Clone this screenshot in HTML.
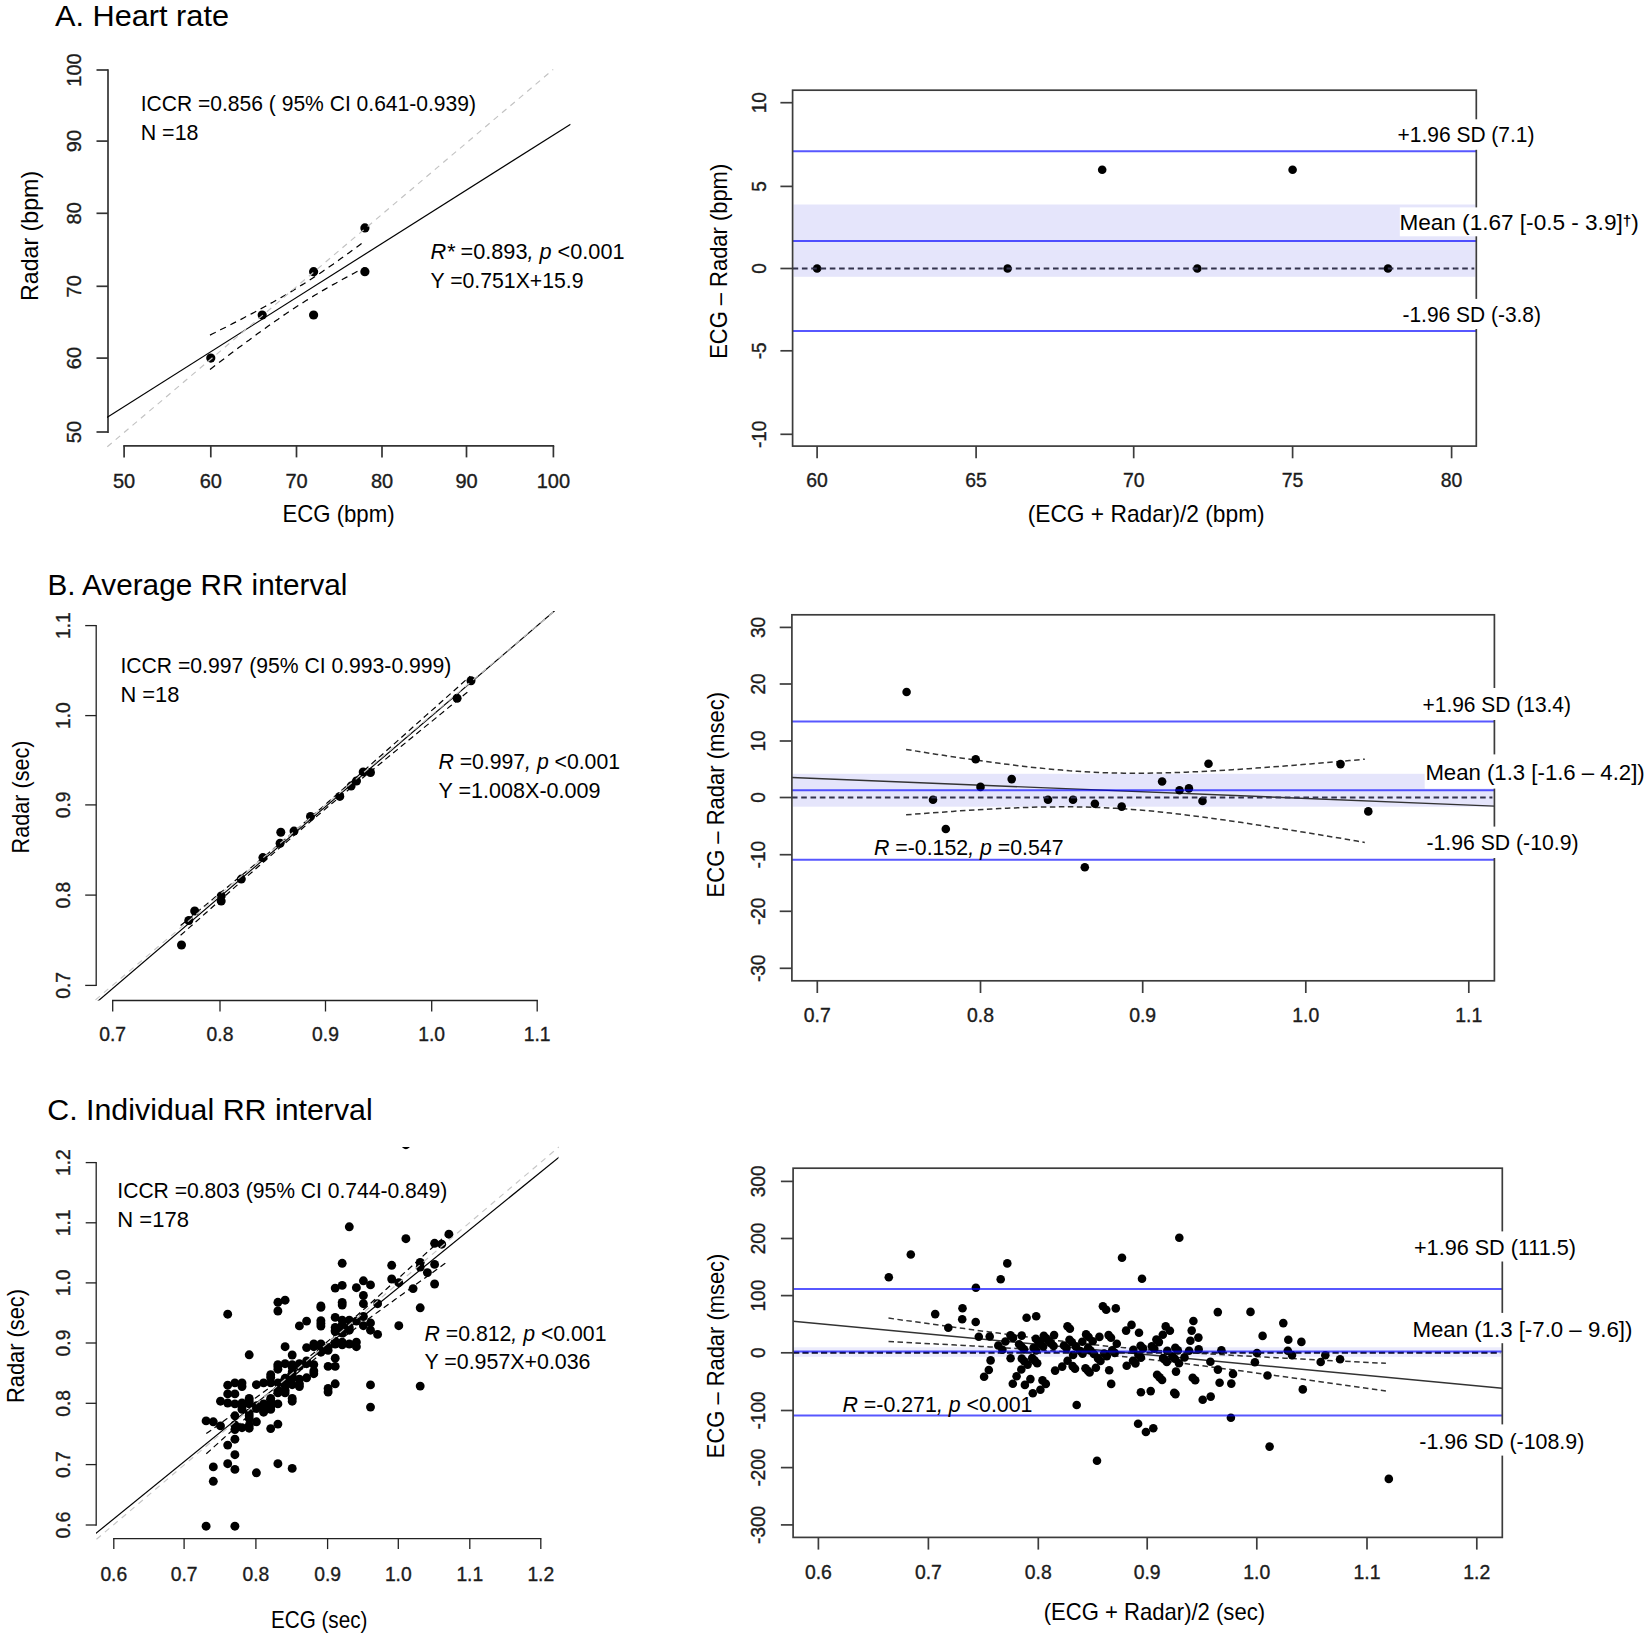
<!DOCTYPE html>
<html><head><meta charset="utf-8"><title>Figure</title>
<style>
html,body{margin:0;padding:0;background:#fff;}
svg{display:block;font-family:'Liberation Sans', sans-serif;}
</style></head><body>
<svg width="1650" height="1639" viewBox="0 0 1650 1639">
<rect width="1650" height="1639" fill="#fff"/>
<g id="pA">
<text x="55.0" y="26.4" font-size="29.30" text-anchor="start" fill="#000" textLength="174.0" lengthAdjust="spacingAndGlyphs" >A. Heart rate</text>
<line x1="108.0" y1="69.2" x2="108.0" y2="432.9" stroke="#333" stroke-width="1.70" />
<line x1="96.5" y1="70.0" x2="108.0" y2="70.0" stroke="#333" stroke-width="1.70" />
<text transform="translate(81.0 70.0) rotate(-90) scale(1 1.000)" font-size="20.00" text-anchor="middle" fill="#1c1c1c" stroke="#1c1c1c" stroke-width="0.35">100</text>
<line x1="96.5" y1="141.1" x2="108.0" y2="141.1" stroke="#333" stroke-width="1.70" />
<text transform="translate(81.0 141.1) rotate(-90) scale(1 1.000)" font-size="20.00" text-anchor="middle" fill="#1c1c1c" stroke="#1c1c1c" stroke-width="0.35">90</text>
<line x1="96.5" y1="213.3" x2="108.0" y2="213.3" stroke="#333" stroke-width="1.70" />
<text transform="translate(81.0 213.3) rotate(-90) scale(1 1.000)" font-size="20.00" text-anchor="middle" fill="#1c1c1c" stroke="#1c1c1c" stroke-width="0.35">80</text>
<line x1="96.5" y1="286.3" x2="108.0" y2="286.3" stroke="#333" stroke-width="1.70" />
<text transform="translate(81.0 286.3) rotate(-90) scale(1 1.000)" font-size="20.00" text-anchor="middle" fill="#1c1c1c" stroke="#1c1c1c" stroke-width="0.35">70</text>
<line x1="96.5" y1="358.1" x2="108.0" y2="358.1" stroke="#333" stroke-width="1.70" />
<text transform="translate(81.0 358.1) rotate(-90) scale(1 1.000)" font-size="20.00" text-anchor="middle" fill="#1c1c1c" stroke="#1c1c1c" stroke-width="0.35">60</text>
<line x1="96.5" y1="432.0" x2="108.0" y2="432.0" stroke="#333" stroke-width="1.70" />
<text transform="translate(81.0 432.0) rotate(-90) scale(1 1.000)" font-size="20.00" text-anchor="middle" fill="#1c1c1c" stroke="#1c1c1c" stroke-width="0.35">50</text>
<line x1="123.2" y1="445.9" x2="554.2" y2="445.9" stroke="#333" stroke-width="1.70" />
<line x1="124.1" y1="445.9" x2="124.1" y2="457.4" stroke="#333" stroke-width="1.70" />
<text x="124.1" y="488.3" font-size="20.00" text-anchor="middle" fill="#1c1c1c" stroke="#1c1c1c" stroke-width="0.35">50</text>
<line x1="210.8" y1="445.9" x2="210.8" y2="457.4" stroke="#333" stroke-width="1.70" />
<text x="210.8" y="488.3" font-size="20.00" text-anchor="middle" fill="#1c1c1c" stroke="#1c1c1c" stroke-width="0.35">60</text>
<line x1="296.5" y1="445.9" x2="296.5" y2="457.4" stroke="#333" stroke-width="1.70" />
<text x="296.5" y="488.3" font-size="20.00" text-anchor="middle" fill="#1c1c1c" stroke="#1c1c1c" stroke-width="0.35">70</text>
<line x1="382.0" y1="445.9" x2="382.0" y2="457.4" stroke="#333" stroke-width="1.70" />
<text x="382.0" y="488.3" font-size="20.00" text-anchor="middle" fill="#1c1c1c" stroke="#1c1c1c" stroke-width="0.35">80</text>
<line x1="466.5" y1="445.9" x2="466.5" y2="457.4" stroke="#333" stroke-width="1.70" />
<text x="466.5" y="488.3" font-size="20.00" text-anchor="middle" fill="#1c1c1c" stroke="#1c1c1c" stroke-width="0.35">90</text>
<line x1="553.4" y1="445.9" x2="553.4" y2="457.4" stroke="#333" stroke-width="1.70" />
<text x="553.4" y="488.3" font-size="20.00" text-anchor="middle" fill="#1c1c1c" stroke="#1c1c1c" stroke-width="0.35">100</text>
<clipPath id="cA"><rect x="107" y="55" width="463.6" height="391.5"/></clipPath>
<line x1="106.9" y1="417.4" x2="570.6" y2="124.2" stroke="#000" stroke-width="1.20" clip-path="url(#cA)"/>
<circle cx="210.8" cy="358.1" r="4.60" fill="#000"/>
<circle cx="262.2" cy="315.0" r="4.60" fill="#000"/>
<circle cx="313.6" cy="271.7" r="4.60" fill="#000"/>
<circle cx="313.6" cy="315.0" r="4.60" fill="#000"/>
<circle cx="364.9" cy="227.9" r="4.60" fill="#000"/>
<circle cx="364.9" cy="271.7" r="4.60" fill="#000"/>
<polyline fill="none" points="210.0,335.1 212.6,333.8 215.2,332.5 217.8,331.1 220.4,329.8 223.1,328.5 225.7,327.2 228.3,325.8 230.9,324.5 233.5,323.1 236.2,321.8 238.8,320.4 241.4,319.1 244.0,317.7 246.6,316.3 249.3,315.0 251.9,313.6 254.5,312.2 257.1,310.8 259.7,309.4 262.3,308.0 265.0,306.5 267.6,305.1 270.2,303.6 272.8,302.2 275.4,300.7 278.1,299.2 280.7,297.7 283.3,296.2 285.9,294.7 288.5,293.1 291.2,291.6 293.8,290.0 296.4,288.4 299.0,286.8 301.6,285.1 304.3,283.5 306.9,281.8 309.5,280.1 312.1,278.4 314.7,276.7 317.4,274.9 320.0,273.2 322.6,271.4 325.2,269.6 327.8,267.8 330.5,266.0 333.1,264.2 335.7,262.3 338.3,260.5 340.9,258.6 343.6,256.7 346.2,254.8 348.8,252.9 351.4,251.0 354.0,249.1 356.6,247.2 359.3,245.2 361.9,243.3 364.5,241.4" stroke="#000" stroke-width="1.25" stroke-dasharray="6.4 5" />
<polyline fill="none" points="210.0,369.4 212.6,367.4 215.2,365.4 217.8,363.4 220.4,361.5 223.1,359.5 225.7,357.5 228.3,355.5 230.9,353.5 233.5,351.6 236.2,349.6 238.8,347.6 241.4,345.7 244.0,343.7 246.6,341.8 249.3,339.9 251.9,337.9 254.5,336.0 257.1,334.1 259.7,332.2 262.3,330.3 265.0,328.4 267.6,326.5 270.2,324.7 272.8,322.8 275.4,321.0 278.1,319.2 280.7,317.3 283.3,315.5 285.9,313.8 288.5,312.0 291.2,310.3 293.8,308.5 296.4,306.8 299.0,305.1 301.6,303.4 304.3,301.8 306.9,300.1 309.5,298.5 312.1,296.9 314.7,295.3 317.4,293.7 320.0,292.2 322.6,290.6 325.2,289.1 327.8,287.6 330.5,286.1 333.1,284.6 335.7,283.2 338.3,281.7 340.9,280.3 343.6,278.8 346.2,277.4 348.8,276.0 351.4,274.6 354.0,273.2 356.6,271.8 359.3,270.4 361.9,269.1 364.5,267.7" stroke="#000" stroke-width="1.25" stroke-dasharray="6.4 5" />
<line x1="107.3" y1="446.7" x2="553.2" y2="69.5" stroke="#c2c2c2" stroke-width="1.15" stroke-dasharray="5.8 5.2" />
<text x="140.7" y="110.9" font-size="22.00" text-anchor="start" fill="#000" textLength="335.3" lengthAdjust="spacingAndGlyphs" >ICCR =0.856 ( 95% CI 0.641-0.939)</text>
<text x="140.7" y="140.0" font-size="22.00" text-anchor="start" fill="#000" textLength="57.8" lengthAdjust="spacingAndGlyphs" >N =18</text>
<text x="430.5" y="258.7" font-size="22.00" text-anchor="start" fill="#000" textLength="194.0" lengthAdjust="spacingAndGlyphs" ><tspan font-style="italic">R* </tspan>=0.893<tspan font-style="italic">, p </tspan>&lt;0.001</text>
<text x="430.5" y="287.7" font-size="22.00" text-anchor="start" fill="#000" textLength="153.0" lengthAdjust="spacingAndGlyphs" >Y =0.751X+15.9</text>
<text x="38.2" y="235.9" font-size="23.20" text-anchor="middle" fill="#000" textLength="130.0" lengthAdjust="spacingAndGlyphs" transform="rotate(-90 38.2 235.9)" >Radar (bpm)</text>
<text x="338.5" y="521.8" font-size="23.20" text-anchor="middle" fill="#000" textLength="112.2" lengthAdjust="spacingAndGlyphs" >ECG (bpm)</text>
</g>
<g id="pB">
<text x="47.4" y="594.6" font-size="29.30" text-anchor="start" fill="#000" textLength="300.0" lengthAdjust="spacingAndGlyphs" >B. Average RR interval</text>
<line x1="96.2" y1="625.0" x2="96.2" y2="986.0" stroke="#222" stroke-width="1.30" />
<line x1="85.2" y1="625.6" x2="96.2" y2="625.6" stroke="#222" stroke-width="1.30" />
<text transform="translate(69.8 625.6) rotate(-90) scale(1 1.000)" font-size="19.30" text-anchor="middle" fill="#1c1c1c" stroke="#1c1c1c" stroke-width="0.35">1.1</text>
<line x1="85.2" y1="715.6" x2="96.2" y2="715.6" stroke="#222" stroke-width="1.30" />
<text transform="translate(69.8 715.6) rotate(-90) scale(1 1.000)" font-size="19.30" text-anchor="middle" fill="#1c1c1c" stroke="#1c1c1c" stroke-width="0.35">1.0</text>
<line x1="85.2" y1="804.9" x2="96.2" y2="804.9" stroke="#222" stroke-width="1.30" />
<text transform="translate(69.8 804.9) rotate(-90) scale(1 1.000)" font-size="19.30" text-anchor="middle" fill="#1c1c1c" stroke="#1c1c1c" stroke-width="0.35">0.9</text>
<line x1="85.2" y1="895.1" x2="96.2" y2="895.1" stroke="#222" stroke-width="1.30" />
<text transform="translate(69.8 895.1) rotate(-90) scale(1 1.000)" font-size="19.30" text-anchor="middle" fill="#1c1c1c" stroke="#1c1c1c" stroke-width="0.35">0.8</text>
<line x1="85.2" y1="985.4" x2="96.2" y2="985.4" stroke="#222" stroke-width="1.30" />
<text transform="translate(69.8 985.4) rotate(-90) scale(1 1.000)" font-size="19.30" text-anchor="middle" fill="#1c1c1c" stroke="#1c1c1c" stroke-width="0.35">0.7</text>
<line x1="112.0" y1="1000.5" x2="537.9" y2="1000.5" stroke="#222" stroke-width="1.30" />
<line x1="112.7" y1="1000.5" x2="112.7" y2="1011.5" stroke="#222" stroke-width="1.30" />
<text x="112.7" y="1041.3" font-size="19.30" text-anchor="middle" fill="#1c1c1c" stroke="#1c1c1c" stroke-width="0.35">0.7</text>
<line x1="220.0" y1="1000.5" x2="220.0" y2="1011.5" stroke="#222" stroke-width="1.30" />
<text x="220.0" y="1041.3" font-size="19.30" text-anchor="middle" fill="#1c1c1c" stroke="#1c1c1c" stroke-width="0.35">0.8</text>
<line x1="325.5" y1="1000.5" x2="325.5" y2="1011.5" stroke="#222" stroke-width="1.30" />
<text x="325.5" y="1041.3" font-size="19.30" text-anchor="middle" fill="#1c1c1c" stroke="#1c1c1c" stroke-width="0.35">0.9</text>
<line x1="431.7" y1="1000.5" x2="431.7" y2="1011.5" stroke="#222" stroke-width="1.30" />
<text x="431.7" y="1041.3" font-size="19.30" text-anchor="middle" fill="#1c1c1c" stroke="#1c1c1c" stroke-width="0.35">1.0</text>
<line x1="537.2" y1="1000.5" x2="537.2" y2="1011.5" stroke="#222" stroke-width="1.30" />
<text x="537.2" y="1041.3" font-size="19.30" text-anchor="middle" fill="#1c1c1c" stroke="#1c1c1c" stroke-width="0.35">1.1</text>
<clipPath id="cB"><rect x="95.5" y="611" width="459.5" height="389.5"/></clipPath>
<line x1="91.5" y1="1006.6" x2="558.4" y2="607.6" stroke="#000" stroke-width="1.20" clip-path="url(#cB)"/>
<circle cx="181.5" cy="945.0" r="4.50" fill="#000"/>
<circle cx="188.8" cy="920.5" r="4.50" fill="#000"/>
<circle cx="194.7" cy="911.0" r="4.50" fill="#000"/>
<circle cx="221.2" cy="895.9" r="4.50" fill="#000"/>
<circle cx="221.2" cy="901.1" r="4.50" fill="#000"/>
<circle cx="241.3" cy="879.1" r="4.50" fill="#000"/>
<circle cx="262.9" cy="857.6" r="4.50" fill="#000"/>
<circle cx="280.1" cy="843.2" r="4.50" fill="#000"/>
<circle cx="280.8" cy="832.2" r="4.50" fill="#000"/>
<circle cx="294.0" cy="831.1" r="4.50" fill="#000"/>
<circle cx="310.5" cy="816.4" r="4.50" fill="#000"/>
<circle cx="339.8" cy="796.4" r="4.50" fill="#000"/>
<circle cx="351.1" cy="786.1" r="4.50" fill="#000"/>
<circle cx="356.5" cy="781.0" r="4.50" fill="#000"/>
<circle cx="363.2" cy="771.9" r="4.50" fill="#000"/>
<circle cx="370.5" cy="772.5" r="4.50" fill="#000"/>
<circle cx="457.1" cy="698.3" r="4.50" fill="#000"/>
<circle cx="471.0" cy="680.7" r="4.50" fill="#000"/>
<polyline fill="none" points="180.6,925.5 185.5,921.5 190.4,917.5 195.4,913.4 200.3,909.4 205.2,905.4 210.1,901.4 215.0,897.3 219.9,893.3 224.8,889.2 229.7,885.2 234.6,881.1 239.5,877.1 244.5,873.0 249.4,869.0 254.3,864.9 259.2,860.8 264.1,856.7 269.0,852.6 273.9,848.5 278.8,844.4 283.7,840.3 288.7,836.1 293.6,831.9 298.5,827.8 303.4,823.6 308.3,819.3 313.2,815.1 318.1,810.8 323.0,806.6 327.9,802.3 332.8,798.0 337.8,793.7 342.7,789.4 347.6,785.1 352.5,780.7 357.4,776.4 362.3,772.1 367.2,767.7 372.1,763.4 377.0,759.0 382.0,754.7 386.9,750.3 391.8,746.0 396.7,741.6 401.6,737.2 406.5,732.9 411.4,728.5 416.3,724.1 421.2,719.8 426.1,715.4 431.1,711.0 436.0,706.7 440.9,702.3 445.8,697.9 450.7,693.5 455.6,689.2 460.5,684.8 465.4,680.4 470.3,676.1" stroke="#000" stroke-width="1.20" stroke-dasharray="6 4" />
<polyline fill="none" points="180.6,935.3 185.5,931.0 190.4,926.6 195.4,922.2 200.3,917.9 205.2,913.5 210.1,909.2 215.0,904.8 219.9,900.5 224.8,896.1 229.7,891.8 234.6,887.4 239.5,883.1 244.5,878.7 249.4,874.4 254.3,870.1 259.2,865.8 264.1,861.5 269.0,857.2 273.9,852.9 278.8,848.6 283.7,844.4 288.7,840.1 293.6,835.9 298.5,831.7 303.4,827.5 308.3,823.4 313.2,819.2 318.1,815.1 323.0,811.0 327.9,806.8 332.8,802.7 337.8,798.7 342.7,794.6 347.6,790.5 352.5,786.4 357.4,782.4 362.3,778.3 367.2,774.3 372.1,770.2 377.0,766.2 382.0,762.2 386.9,758.1 391.8,754.1 396.7,750.1 401.6,746.0 406.5,742.0 411.4,738.0 416.3,734.0 421.2,729.9 426.1,725.9 431.1,721.9 436.0,717.9 440.9,713.9 445.8,709.8 450.7,705.8 455.6,701.8 460.5,697.8 465.4,693.8 470.3,689.8" stroke="#000" stroke-width="1.20" stroke-dasharray="6 4" />
<line x1="95.5" y1="999.8" x2="554.5" y2="611.0" stroke="#c6c6c6" stroke-width="1.10" stroke-dasharray="5.8 5.2" />
<text x="120.4" y="673.4" font-size="22.00" text-anchor="start" fill="#000" textLength="331.0" lengthAdjust="spacingAndGlyphs" >ICCR =0.997 (95% CI 0.993-0.999)</text>
<text x="120.4" y="701.6" font-size="22.00" text-anchor="start" fill="#000" textLength="59.0" lengthAdjust="spacingAndGlyphs" >N =18</text>
<text x="438.5" y="769.4" font-size="22.00" text-anchor="start" fill="#000" textLength="181.5" lengthAdjust="spacingAndGlyphs" ><tspan font-style="italic">R </tspan>=0.997<tspan font-style="italic">, p </tspan>&lt;0.001</text>
<text x="438.5" y="798.2" font-size="22.00" text-anchor="start" fill="#000" textLength="162.0" lengthAdjust="spacingAndGlyphs" >Y =1.008X-0.009</text>
<text x="29.3" y="797.0" font-size="23.20" text-anchor="middle" fill="#000" textLength="113.0" lengthAdjust="spacingAndGlyphs" transform="rotate(-90 29.3 797.0)" >Radar (sec)</text>
</g>
<g id="pC">
<text x="47.3" y="1120.0" font-size="29.30" text-anchor="start" fill="#000" textLength="325.4" lengthAdjust="spacingAndGlyphs" >C. Individual RR interval</text>
<line x1="96.2" y1="1161.9" x2="96.2" y2="1525.7" stroke="#222" stroke-width="1.30" />
<line x1="85.7" y1="1162.6" x2="96.2" y2="1162.6" stroke="#222" stroke-width="1.30" />
<text transform="translate(69.8 1162.6) rotate(-90) scale(1 1.000)" font-size="19.30" text-anchor="middle" fill="#1c1c1c" stroke="#1c1c1c" stroke-width="0.35">1.2</text>
<line x1="85.7" y1="1222.8" x2="96.2" y2="1222.8" stroke="#222" stroke-width="1.30" />
<text transform="translate(69.8 1222.8) rotate(-90) scale(1 1.000)" font-size="19.30" text-anchor="middle" fill="#1c1c1c" stroke="#1c1c1c" stroke-width="0.35">1.1</text>
<line x1="85.7" y1="1282.9" x2="96.2" y2="1282.9" stroke="#222" stroke-width="1.30" />
<text transform="translate(69.8 1282.9) rotate(-90) scale(1 1.000)" font-size="19.30" text-anchor="middle" fill="#1c1c1c" stroke="#1c1c1c" stroke-width="0.35">1.0</text>
<line x1="85.7" y1="1343.0" x2="96.2" y2="1343.0" stroke="#222" stroke-width="1.30" />
<text transform="translate(69.8 1343.0) rotate(-90) scale(1 1.000)" font-size="19.30" text-anchor="middle" fill="#1c1c1c" stroke="#1c1c1c" stroke-width="0.35">0.9</text>
<line x1="85.7" y1="1403.3" x2="96.2" y2="1403.3" stroke="#222" stroke-width="1.30" />
<text transform="translate(69.8 1403.3) rotate(-90) scale(1 1.000)" font-size="19.30" text-anchor="middle" fill="#1c1c1c" stroke="#1c1c1c" stroke-width="0.35">0.8</text>
<line x1="85.7" y1="1464.6" x2="96.2" y2="1464.6" stroke="#222" stroke-width="1.30" />
<text transform="translate(69.8 1464.6) rotate(-90) scale(1 1.000)" font-size="19.30" text-anchor="middle" fill="#1c1c1c" stroke="#1c1c1c" stroke-width="0.35">0.7</text>
<line x1="85.7" y1="1525.0" x2="96.2" y2="1525.0" stroke="#222" stroke-width="1.30" />
<text transform="translate(69.8 1525.0) rotate(-90) scale(1 1.000)" font-size="19.30" text-anchor="middle" fill="#1c1c1c" stroke="#1c1c1c" stroke-width="0.35">0.6</text>
<line x1="113.1" y1="1538.6" x2="541.4" y2="1538.6" stroke="#222" stroke-width="1.30" />
<line x1="113.8" y1="1538.6" x2="113.8" y2="1549.1" stroke="#222" stroke-width="1.30" />
<text x="113.8" y="1580.8" font-size="19.30" text-anchor="middle" fill="#1c1c1c" stroke="#1c1c1c" stroke-width="0.35">0.6</text>
<line x1="184.1" y1="1538.6" x2="184.1" y2="1549.1" stroke="#222" stroke-width="1.30" />
<text x="184.1" y="1580.8" font-size="19.30" text-anchor="middle" fill="#1c1c1c" stroke="#1c1c1c" stroke-width="0.35">0.7</text>
<line x1="255.9" y1="1538.6" x2="255.9" y2="1549.1" stroke="#222" stroke-width="1.30" />
<text x="255.9" y="1580.8" font-size="19.30" text-anchor="middle" fill="#1c1c1c" stroke="#1c1c1c" stroke-width="0.35">0.8</text>
<line x1="327.6" y1="1538.6" x2="327.6" y2="1549.1" stroke="#222" stroke-width="1.30" />
<text x="327.6" y="1580.8" font-size="19.30" text-anchor="middle" fill="#1c1c1c" stroke="#1c1c1c" stroke-width="0.35">0.9</text>
<line x1="398.3" y1="1538.6" x2="398.3" y2="1549.1" stroke="#222" stroke-width="1.30" />
<text x="398.3" y="1580.8" font-size="19.30" text-anchor="middle" fill="#1c1c1c" stroke="#1c1c1c" stroke-width="0.35">1.0</text>
<line x1="469.8" y1="1538.6" x2="469.8" y2="1549.1" stroke="#222" stroke-width="1.30" />
<text x="469.8" y="1580.8" font-size="19.30" text-anchor="middle" fill="#1c1c1c" stroke="#1c1c1c" stroke-width="0.35">1.1</text>
<line x1="540.8" y1="1538.6" x2="540.8" y2="1549.1" stroke="#222" stroke-width="1.30" />
<text x="540.8" y="1580.8" font-size="19.30" text-anchor="middle" fill="#1c1c1c" stroke="#1c1c1c" stroke-width="0.35">1.2</text>
<clipPath id="cC"><rect x="96" y="1147" width="462.5" height="392.5"/></clipPath>
<line x1="92.4" y1="1536.2" x2="562.1" y2="1154.7" stroke="#000" stroke-width="1.20" clip-path="url(#cC)"/>
<g clip-path="url(#cC)">
<circle cx="206.1" cy="1420.9" r="4.45" fill="#000"/>
<circle cx="213.3" cy="1421.8" r="4.45" fill="#000"/>
<circle cx="213.3" cy="1466.9" r="4.45" fill="#000"/>
<circle cx="213.3" cy="1481.3" r="4.45" fill="#000"/>
<circle cx="220.5" cy="1401.2" r="4.45" fill="#000"/>
<circle cx="220.5" cy="1425.9" r="4.45" fill="#000"/>
<circle cx="227.7" cy="1385.2" r="4.45" fill="#000"/>
<circle cx="227.7" cy="1393.9" r="4.45" fill="#000"/>
<circle cx="227.7" cy="1403.0" r="4.45" fill="#000"/>
<circle cx="227.7" cy="1445.1" r="4.45" fill="#000"/>
<circle cx="227.7" cy="1463.7" r="4.45" fill="#000"/>
<circle cx="234.9" cy="1382.9" r="4.45" fill="#000"/>
<circle cx="234.9" cy="1393.9" r="4.45" fill="#000"/>
<circle cx="234.9" cy="1403.9" r="4.45" fill="#000"/>
<circle cx="234.9" cy="1415.8" r="4.45" fill="#000"/>
<circle cx="234.9" cy="1425.0" r="4.45" fill="#000"/>
<circle cx="234.9" cy="1429.6" r="4.45" fill="#000"/>
<circle cx="234.9" cy="1439.2" r="4.45" fill="#000"/>
<circle cx="234.9" cy="1454.7" r="4.45" fill="#000"/>
<circle cx="234.9" cy="1469.4" r="4.45" fill="#000"/>
<circle cx="242.0" cy="1382.9" r="4.45" fill="#000"/>
<circle cx="242.0" cy="1386.5" r="4.45" fill="#000"/>
<circle cx="242.0" cy="1403.0" r="4.45" fill="#000"/>
<circle cx="242.0" cy="1406.7" r="4.45" fill="#000"/>
<circle cx="242.0" cy="1427.7" r="4.45" fill="#000"/>
<circle cx="249.2" cy="1401.2" r="4.45" fill="#000"/>
<circle cx="249.2" cy="1403.9" r="4.45" fill="#000"/>
<circle cx="249.2" cy="1413.1" r="4.45" fill="#000"/>
<circle cx="249.2" cy="1418.6" r="4.45" fill="#000"/>
<circle cx="249.2" cy="1428.2" r="4.45" fill="#000"/>
<circle cx="256.4" cy="1384.7" r="4.45" fill="#000"/>
<circle cx="256.4" cy="1405.8" r="4.45" fill="#000"/>
<circle cx="256.4" cy="1421.8" r="4.45" fill="#000"/>
<circle cx="256.4" cy="1472.8" r="4.45" fill="#000"/>
<circle cx="263.6" cy="1382.9" r="4.45" fill="#000"/>
<circle cx="263.6" cy="1403.9" r="4.45" fill="#000"/>
<circle cx="263.6" cy="1407.6" r="4.45" fill="#000"/>
<circle cx="263.6" cy="1412.2" r="4.45" fill="#000"/>
<circle cx="270.7" cy="1377.4" r="4.45" fill="#000"/>
<circle cx="270.7" cy="1382.9" r="4.45" fill="#000"/>
<circle cx="270.7" cy="1398.4" r="4.45" fill="#000"/>
<circle cx="270.7" cy="1403.9" r="4.45" fill="#000"/>
<circle cx="270.7" cy="1409.4" r="4.45" fill="#000"/>
<circle cx="270.7" cy="1428.6" r="4.45" fill="#000"/>
<circle cx="277.9" cy="1364.6" r="4.45" fill="#000"/>
<circle cx="277.9" cy="1369.2" r="4.45" fill="#000"/>
<circle cx="277.9" cy="1382.9" r="4.45" fill="#000"/>
<circle cx="277.9" cy="1390.2" r="4.45" fill="#000"/>
<circle cx="277.9" cy="1403.9" r="4.45" fill="#000"/>
<circle cx="277.9" cy="1424.1" r="4.45" fill="#000"/>
<circle cx="277.9" cy="1463.7" r="4.45" fill="#000"/>
<circle cx="285.1" cy="1363.7" r="4.45" fill="#000"/>
<circle cx="285.1" cy="1381.0" r="4.45" fill="#000"/>
<circle cx="285.1" cy="1385.6" r="4.45" fill="#000"/>
<circle cx="285.1" cy="1390.2" r="4.45" fill="#000"/>
<circle cx="292.2" cy="1364.6" r="4.45" fill="#000"/>
<circle cx="292.2" cy="1371.9" r="4.45" fill="#000"/>
<circle cx="292.2" cy="1378.3" r="4.45" fill="#000"/>
<circle cx="292.2" cy="1384.7" r="4.45" fill="#000"/>
<circle cx="292.2" cy="1398.4" r="4.45" fill="#000"/>
<circle cx="292.2" cy="1468.4" r="4.45" fill="#000"/>
<circle cx="299.4" cy="1363.7" r="4.45" fill="#000"/>
<circle cx="299.4" cy="1379.2" r="4.45" fill="#000"/>
<circle cx="299.4" cy="1386.5" r="4.45" fill="#000"/>
<circle cx="306.6" cy="1363.7" r="4.45" fill="#000"/>
<circle cx="306.6" cy="1377.8" r="4.45" fill="#000"/>
<circle cx="313.8" cy="1364.6" r="4.45" fill="#000"/>
<circle cx="313.8" cy="1371.0" r="4.45" fill="#000"/>
<circle cx="328.1" cy="1366.4" r="4.45" fill="#000"/>
<circle cx="328.1" cy="1388.4" r="4.45" fill="#000"/>
<circle cx="328.1" cy="1392.0" r="4.45" fill="#000"/>
<circle cx="335.2" cy="1366.4" r="4.45" fill="#000"/>
<circle cx="335.2" cy="1383.8" r="4.45" fill="#000"/>
<circle cx="227.7" cy="1314.2" r="4.45" fill="#000"/>
<circle cx="249.2" cy="1354.8" r="4.45" fill="#000"/>
<circle cx="277.9" cy="1302.3" r="4.45" fill="#000"/>
<circle cx="277.9" cy="1311.0" r="4.45" fill="#000"/>
<circle cx="285.1" cy="1300.2" r="4.45" fill="#000"/>
<circle cx="285.1" cy="1346.7" r="4.45" fill="#000"/>
<circle cx="292.2" cy="1355.0" r="4.45" fill="#000"/>
<circle cx="299.4" cy="1325.9" r="4.45" fill="#000"/>
<circle cx="306.6" cy="1321.1" r="4.45" fill="#000"/>
<circle cx="306.6" cy="1347.6" r="4.45" fill="#000"/>
<circle cx="313.8" cy="1346.7" r="4.45" fill="#000"/>
<circle cx="320.9" cy="1306.0" r="4.45" fill="#000"/>
<circle cx="320.9" cy="1307.4" r="4.45" fill="#000"/>
<circle cx="320.9" cy="1323.4" r="4.45" fill="#000"/>
<circle cx="320.9" cy="1326.1" r="4.45" fill="#000"/>
<circle cx="320.9" cy="1344.0" r="4.45" fill="#000"/>
<circle cx="320.9" cy="1352.2" r="4.45" fill="#000"/>
<circle cx="328.1" cy="1347.6" r="4.45" fill="#000"/>
<circle cx="335.2" cy="1288.1" r="4.45" fill="#000"/>
<circle cx="335.2" cy="1317.4" r="4.45" fill="#000"/>
<circle cx="335.2" cy="1327.5" r="4.45" fill="#000"/>
<circle cx="335.2" cy="1331.6" r="4.45" fill="#000"/>
<circle cx="335.2" cy="1344.0" r="4.45" fill="#000"/>
<circle cx="335.2" cy="1358.2" r="4.45" fill="#000"/>
<circle cx="342.2" cy="1263.3" r="4.45" fill="#000"/>
<circle cx="342.2" cy="1285.4" r="4.45" fill="#000"/>
<circle cx="342.2" cy="1305.1" r="4.45" fill="#000"/>
<circle cx="342.2" cy="1320.2" r="4.45" fill="#000"/>
<circle cx="342.2" cy="1324.8" r="4.45" fill="#000"/>
<circle cx="342.2" cy="1333.0" r="4.45" fill="#000"/>
<circle cx="342.2" cy="1344.9" r="4.45" fill="#000"/>
<circle cx="349.3" cy="1226.8" r="4.45" fill="#000"/>
<circle cx="349.3" cy="1320.2" r="4.45" fill="#000"/>
<circle cx="349.3" cy="1327.5" r="4.45" fill="#000"/>
<circle cx="349.3" cy="1344.0" r="4.45" fill="#000"/>
<circle cx="356.4" cy="1287.7" r="4.45" fill="#000"/>
<circle cx="356.4" cy="1321.1" r="4.45" fill="#000"/>
<circle cx="356.4" cy="1342.1" r="4.45" fill="#000"/>
<circle cx="356.4" cy="1346.7" r="4.45" fill="#000"/>
<circle cx="363.4" cy="1280.8" r="4.45" fill="#000"/>
<circle cx="363.4" cy="1295.5" r="4.45" fill="#000"/>
<circle cx="363.4" cy="1303.7" r="4.45" fill="#000"/>
<circle cx="363.4" cy="1316.5" r="4.45" fill="#000"/>
<circle cx="363.4" cy="1325.7" r="4.45" fill="#000"/>
<circle cx="370.5" cy="1284.9" r="4.45" fill="#000"/>
<circle cx="370.5" cy="1322.9" r="4.45" fill="#000"/>
<circle cx="370.5" cy="1330.2" r="4.45" fill="#000"/>
<circle cx="377.6" cy="1303.7" r="4.45" fill="#000"/>
<circle cx="377.6" cy="1334.4" r="4.45" fill="#000"/>
<circle cx="391.7" cy="1265.3" r="4.45" fill="#000"/>
<circle cx="391.7" cy="1279.0" r="4.45" fill="#000"/>
<circle cx="398.8" cy="1282.7" r="4.45" fill="#000"/>
<circle cx="398.8" cy="1325.7" r="4.45" fill="#000"/>
<circle cx="405.9" cy="1238.7" r="4.45" fill="#000"/>
<circle cx="413.1" cy="1288.6" r="4.45" fill="#000"/>
<circle cx="420.2" cy="1262.5" r="4.45" fill="#000"/>
<circle cx="420.2" cy="1267.1" r="4.45" fill="#000"/>
<circle cx="420.2" cy="1307.8" r="4.45" fill="#000"/>
<circle cx="427.4" cy="1272.6" r="4.45" fill="#000"/>
<circle cx="434.6" cy="1243.3" r="4.45" fill="#000"/>
<circle cx="434.6" cy="1264.4" r="4.45" fill="#000"/>
<circle cx="434.6" cy="1284.0" r="4.45" fill="#000"/>
<circle cx="441.7" cy="1244.2" r="4.45" fill="#000"/>
<circle cx="448.9" cy="1234.2" r="4.45" fill="#000"/>
<circle cx="370.5" cy="1384.9" r="4.45" fill="#000"/>
<circle cx="370.5" cy="1407.1" r="4.45" fill="#000"/>
<circle cx="420.2" cy="1386.1" r="4.45" fill="#000"/>
<circle cx="206.1" cy="1526.2" r="4.45" fill="#000"/>
<circle cx="234.9" cy="1526.2" r="4.45" fill="#000"/>
<circle cx="405.9" cy="1144.7" r="4.45" fill="#000"/>
<circle cx="242.0" cy="1409.4" r="4.45" fill="#000"/>
<circle cx="249.2" cy="1425.4" r="4.45" fill="#000"/>
<circle cx="249.2" cy="1415.8" r="4.45" fill="#000"/>
<circle cx="249.2" cy="1398.5" r="4.45" fill="#000"/>
<circle cx="256.4" cy="1408.5" r="4.45" fill="#000"/>
<circle cx="263.6" cy="1409.4" r="4.45" fill="#000"/>
<circle cx="263.6" cy="1406.7" r="4.45" fill="#000"/>
<circle cx="270.7" cy="1406.7" r="4.45" fill="#000"/>
<circle cx="270.7" cy="1401.2" r="4.45" fill="#000"/>
<circle cx="270.7" cy="1374.7" r="4.45" fill="#000"/>
<circle cx="277.9" cy="1392.9" r="4.45" fill="#000"/>
<circle cx="277.9" cy="1366.4" r="4.45" fill="#000"/>
<circle cx="285.1" cy="1392.9" r="4.45" fill="#000"/>
<circle cx="285.1" cy="1378.3" r="4.45" fill="#000"/>
<circle cx="292.2" cy="1401.2" r="4.45" fill="#000"/>
<circle cx="292.2" cy="1375.6" r="4.45" fill="#000"/>
<circle cx="292.2" cy="1367.3" r="4.45" fill="#000"/>
<circle cx="299.4" cy="1383.8" r="4.45" fill="#000"/>
<circle cx="299.4" cy="1366.4" r="4.45" fill="#000"/>
<circle cx="306.6" cy="1360.9" r="4.45" fill="#000"/>
<circle cx="313.8" cy="1373.7" r="4.45" fill="#000"/>
<circle cx="313.8" cy="1344.0" r="4.45" fill="#000"/>
<circle cx="320.9" cy="1346.7" r="4.45" fill="#000"/>
<circle cx="320.9" cy="1320.7" r="4.45" fill="#000"/>
<circle cx="328.1" cy="1350.3" r="4.45" fill="#000"/>
<circle cx="335.2" cy="1341.3" r="4.45" fill="#000"/>
<circle cx="335.2" cy="1330.2" r="4.45" fill="#000"/>
<circle cx="342.2" cy="1342.2" r="4.45" fill="#000"/>
<circle cx="342.2" cy="1327.5" r="4.45" fill="#000"/>
<circle cx="342.2" cy="1302.4" r="4.45" fill="#000"/>
<circle cx="349.3" cy="1330.2" r="4.45" fill="#000"/>
</g>
<polyline fill="none" points="206.3,1433.6 210.4,1430.7 214.5,1427.7 218.6,1424.7 222.7,1421.8 226.8,1418.8 230.9,1415.8 235.0,1412.9 239.1,1409.9 243.2,1406.9 247.3,1403.9 251.4,1400.9 255.5,1397.9 259.6,1394.9 263.7,1391.9 267.8,1388.9 271.9,1385.8 276.0,1382.8 280.1,1379.7 284.2,1376.6 288.3,1373.5 292.4,1370.3 296.5,1367.1 300.6,1363.8 304.7,1360.5 308.8,1357.2 312.9,1353.8 317.0,1350.4 321.1,1346.9 325.2,1343.4 329.4,1339.9 333.5,1336.3 337.6,1332.7 341.7,1329.1 345.8,1325.5 349.9,1321.8 354.0,1318.2 358.1,1314.5 362.2,1310.8 366.3,1307.2 370.4,1303.5 374.5,1299.8 378.6,1296.1 382.7,1292.4 386.8,1288.7 390.9,1285.0 395.0,1281.4 399.1,1277.7 403.2,1273.9 407.3,1270.2 411.4,1266.5 415.5,1262.8 419.6,1259.1 423.7,1255.4 427.8,1251.7 431.9,1248.0 436.0,1244.3 440.1,1240.6 444.2,1236.9 448.3,1233.1" stroke="#000" stroke-width="1.20" stroke-dasharray="6 4" />
<polyline fill="none" points="206.3,1453.8 210.4,1450.1 214.5,1446.4 218.6,1442.7 222.7,1439.0 226.8,1435.3 230.9,1431.6 235.0,1427.9 239.1,1424.2 243.2,1420.5 247.3,1416.9 251.4,1413.2 255.5,1409.5 259.6,1405.9 263.7,1402.2 267.8,1398.6 271.9,1395.0 276.0,1391.4 280.1,1387.8 284.2,1384.2 288.3,1380.7 292.4,1377.2 296.5,1373.7 300.6,1370.3 304.7,1367.0 308.8,1363.6 312.9,1360.4 317.0,1357.1 321.1,1353.9 325.2,1350.8 329.4,1347.7 333.5,1344.6 337.6,1341.5 341.7,1338.5 345.8,1335.4 349.9,1332.4 354.0,1329.4 358.1,1326.4 362.2,1323.4 366.3,1320.4 370.4,1317.4 374.5,1314.4 378.6,1311.5 382.7,1308.5 386.8,1305.5 390.9,1302.6 395.0,1299.6 399.1,1296.6 403.2,1293.7 407.3,1290.7 411.4,1287.8 415.5,1284.8 419.6,1281.8 423.7,1278.9 427.8,1275.9 431.9,1273.0 436.0,1270.0 440.1,1267.1 444.2,1264.1 448.3,1261.2" stroke="#000" stroke-width="1.20" stroke-dasharray="6 4" />
<line x1="96.5" y1="1539.3" x2="558.8" y2="1147.0" stroke="#c6c6c6" stroke-width="1.15" stroke-dasharray="5.8 5.2" />
<text x="117.3" y="1198.0" font-size="22.00" text-anchor="start" fill="#000" textLength="330.0" lengthAdjust="spacingAndGlyphs" >ICCR =0.803 (95% CI 0.744-0.849)</text>
<text x="117.3" y="1226.8" font-size="22.00" text-anchor="start" fill="#000" textLength="71.7" lengthAdjust="spacingAndGlyphs" >N =178</text>
<text x="424.5" y="1340.8" font-size="22.00" text-anchor="start" fill="#000" textLength="182.0" lengthAdjust="spacingAndGlyphs" ><tspan font-style="italic">R </tspan>=0.812<tspan font-style="italic">, p </tspan>&lt;0.001</text>
<text x="424.5" y="1369.2" font-size="22.00" text-anchor="start" fill="#000" textLength="166.0" lengthAdjust="spacingAndGlyphs" >Y =0.957X+0.036</text>
<text x="24.4" y="1346.0" font-size="23.20" text-anchor="middle" fill="#000" textLength="114.0" lengthAdjust="spacingAndGlyphs" transform="rotate(-90 24.4 1346.0)" >Radar (sec)</text>
<text x="319.2" y="1628.0" font-size="23.20" text-anchor="middle" fill="#000" textLength="96.5" lengthAdjust="spacingAndGlyphs" >ECG (sec)</text>
</g>
<g id="rA">
<clipPath id="crA"><rect x="792.6" y="90.2" width="683.7" height="355.9"/></clipPath>
<rect x="793.6" y="204.5" width="681.7" height="72.3" fill="#e5e5fb"/>
<circle cx="817.1" cy="268.5" r="4.30" fill="#000"/>
<circle cx="1007.6" cy="268.5" r="4.30" fill="#000"/>
<circle cx="1197.3" cy="268.5" r="4.30" fill="#000"/>
<circle cx="1388.0" cy="268.5" r="4.30" fill="#000"/>
<circle cx="1102.2" cy="169.7" r="4.30" fill="#000"/>
<circle cx="1292.6" cy="169.7" r="4.30" fill="#000"/>
<line x1="792.6" y1="268.5" x2="1474.3" y2="268.5" stroke="#33334d" stroke-width="1.80" stroke-dasharray="5.6 3.7" />
<line x1="792.6" y1="151.2" x2="1476.3" y2="151.2" stroke="#0000ff" stroke-width="2.00" stroke-opacity="0.66"/>
<line x1="792.6" y1="241.1" x2="1476.3" y2="241.1" stroke="#0000ff" stroke-width="2.00" stroke-opacity="0.66"/>
<line x1="792.6" y1="331.0" x2="1476.3" y2="331.0" stroke="#0000ff" stroke-width="2.00" stroke-opacity="0.66"/>
<rect x="792.6" y="90.2" width="683.7" height="355.9" fill="none" stroke="#3c3c3c" stroke-width="1.7"/>
<line x1="780.4" y1="102.7" x2="792.6" y2="102.7" stroke="#3c3c3c" stroke-width="1.70" />
<text transform="translate(766.3 102.7) rotate(-90) scale(1 1.080)" font-size="19.00" text-anchor="middle" fill="#1c1c1c" stroke="#1c1c1c" stroke-width="0.35">10</text>
<line x1="780.4" y1="186.4" x2="792.6" y2="186.4" stroke="#3c3c3c" stroke-width="1.70" />
<text transform="translate(766.3 186.4) rotate(-90) scale(1 1.080)" font-size="19.00" text-anchor="middle" fill="#1c1c1c" stroke="#1c1c1c" stroke-width="0.35">5</text>
<line x1="780.4" y1="268.5" x2="792.6" y2="268.5" stroke="#3c3c3c" stroke-width="1.70" />
<text transform="translate(766.3 268.5) rotate(-90) scale(1 1.080)" font-size="19.00" text-anchor="middle" fill="#1c1c1c" stroke="#1c1c1c" stroke-width="0.35">0</text>
<line x1="780.4" y1="350.8" x2="792.6" y2="350.8" stroke="#3c3c3c" stroke-width="1.70" />
<text transform="translate(766.3 350.8) rotate(-90) scale(1 1.080)" font-size="19.00" text-anchor="middle" fill="#1c1c1c" stroke="#1c1c1c" stroke-width="0.35">-5</text>
<line x1="780.4" y1="434.3" x2="792.6" y2="434.3" stroke="#3c3c3c" stroke-width="1.70" />
<text transform="translate(766.3 434.3) rotate(-90) scale(1 1.080)" font-size="19.00" text-anchor="middle" fill="#1c1c1c" stroke="#1c1c1c" stroke-width="0.35">-10</text>
<line x1="817.1" y1="446.1" x2="817.1" y2="458.3" stroke="#3c3c3c" stroke-width="1.70" />
<text x="817.1" y="486.6" font-size="19.40" text-anchor="middle" fill="#1c1c1c" stroke="#1c1c1c" stroke-width="0.35">60</text>
<line x1="976.1" y1="446.1" x2="976.1" y2="458.3" stroke="#3c3c3c" stroke-width="1.70" />
<text x="976.1" y="486.6" font-size="19.40" text-anchor="middle" fill="#1c1c1c" stroke="#1c1c1c" stroke-width="0.35">65</text>
<line x1="1133.7" y1="446.1" x2="1133.7" y2="458.3" stroke="#3c3c3c" stroke-width="1.70" />
<text x="1133.7" y="486.6" font-size="19.40" text-anchor="middle" fill="#1c1c1c" stroke="#1c1c1c" stroke-width="0.35">70</text>
<line x1="1292.6" y1="446.1" x2="1292.6" y2="458.3" stroke="#3c3c3c" stroke-width="1.70" />
<text x="1292.6" y="486.6" font-size="19.40" text-anchor="middle" fill="#1c1c1c" stroke="#1c1c1c" stroke-width="0.35">75</text>
<line x1="1451.6" y1="446.1" x2="1451.6" y2="458.3" stroke="#3c3c3c" stroke-width="1.70" />
<text x="1451.6" y="486.6" font-size="19.40" text-anchor="middle" fill="#1c1c1c" stroke="#1c1c1c" stroke-width="0.35">80</text>
<rect x="1394.0" y="119.3" width="146.5" height="30.5" fill="#fff"/>
<text x="1397.5" y="142.4" font-size="22.00" text-anchor="start" fill="#000" textLength="137.0" lengthAdjust="spacingAndGlyphs" >+1.96 SD (7.1)</text>
<rect x="1399.8" y="207.4" width="245.0" height="28.9" fill="#fff"/>
<text x="1399.4" y="229.7" font-size="22.00" text-anchor="start" fill="#000" textLength="239.4" lengthAdjust="spacingAndGlyphs" >Mean (1.67 [-0.5 - 3.9]<tspan font-size="15" font-weight="bold" dy="-3.5">†</tspan><tspan dy="3.5">)</tspan></text>
<rect x="1399.0" y="298.9" width="148.0" height="30.1" fill="#fff"/>
<text x="1402.5" y="322.0" font-size="22.00" text-anchor="start" fill="#000" textLength="138.5" lengthAdjust="spacingAndGlyphs" >-1.96 SD (-3.8)</text>
</g>
<text x="727.1" y="261.3" font-size="23.20" text-anchor="middle" fill="#000" textLength="195.0" lengthAdjust="spacingAndGlyphs" transform="rotate(-90 727.1 261.3)" >ECG – Radar (bpm)</text>
<text x="1146.2" y="521.5" font-size="23.20" text-anchor="middle" fill="#000" textLength="237.0" lengthAdjust="spacingAndGlyphs" >(ECG + Radar)/2 (bpm)</text>
<g id="rB">
<clipPath id="crB"><rect x="791.9" y="614.8" width="702.5" height="366.0"/></clipPath>
<rect x="792.9" y="773.8" width="700.5" height="32.9" fill="#e5e5fb"/>
<line x1="791.9" y1="777.5" x2="1494.4" y2="806.1" stroke="#333" stroke-width="1.40" />
<polyline fill="none" points="906.1,749.5 913.9,750.7 921.6,751.9 929.4,753.2 937.2,754.4 945.0,755.6 952.7,756.7 960.5,757.9 968.3,759.0 976.1,760.1 983.8,761.2 991.6,762.3 999.4,763.3 1007.2,764.3 1014.9,765.3 1022.7,766.2 1030.5,767.1 1038.3,767.9 1046.0,768.7 1053.8,769.5 1061.6,770.1 1069.4,770.8 1077.1,771.3 1084.9,771.8 1092.7,772.2 1100.5,772.6 1108.2,772.8 1116.0,773.0 1123.8,773.2 1131.6,773.3 1139.3,773.3 1147.1,773.2 1154.9,773.1 1162.7,772.9 1170.4,772.7 1178.2,772.5 1186.0,772.2 1193.8,771.8 1201.5,771.5 1209.3,771.1 1217.1,770.6 1224.9,770.2 1232.6,769.7 1240.4,769.2 1248.2,768.7 1256.0,768.1 1263.7,767.5 1271.5,767.0 1279.3,766.4 1287.1,765.8 1294.8,765.2 1302.6,764.5 1310.4,763.9 1318.2,763.3 1325.9,762.6 1333.7,761.9 1341.5,761.3 1349.3,760.6 1357.0,759.9 1364.8,759.2" stroke="#333" stroke-width="1.50" stroke-dasharray="5.5 3.5" />
<polyline fill="none" points="906.1,814.8 913.9,814.2 921.6,813.6 929.4,813.0 937.2,812.5 945.0,811.9 952.7,811.4 960.5,810.8 968.3,810.3 976.1,809.8 983.8,809.4 991.6,809.0 999.4,808.6 1007.2,808.2 1014.9,807.9 1022.7,807.6 1030.5,807.3 1038.3,807.1 1046.0,807.0 1053.8,806.9 1061.6,806.8 1069.4,806.8 1077.1,806.9 1084.9,807.1 1092.7,807.3 1100.5,807.6 1108.2,807.9 1116.0,808.3 1123.8,808.8 1131.6,809.4 1139.3,810.0 1147.1,810.7 1154.9,811.4 1162.7,812.2 1170.4,813.1 1178.2,814.0 1186.0,814.9 1193.8,815.9 1201.5,816.9 1209.3,817.9 1217.1,819.0 1224.9,820.1 1232.6,821.2 1240.4,822.3 1248.2,823.5 1256.0,824.7 1263.7,825.9 1271.5,827.1 1279.3,828.3 1287.1,829.5 1294.8,830.8 1302.6,832.0 1310.4,833.3 1318.2,834.6 1325.9,835.9 1333.7,837.1 1341.5,838.4 1349.3,839.8 1357.0,841.1 1364.8,842.4" stroke="#333" stroke-width="1.50" stroke-dasharray="5.5 3.5" />
<circle cx="906.6" cy="692.0" r="4.30" fill="#000"/>
<circle cx="975.7" cy="759.2" r="4.30" fill="#000"/>
<circle cx="1011.7" cy="779.1" r="4.30" fill="#000"/>
<circle cx="980.5" cy="786.9" r="4.30" fill="#000"/>
<circle cx="933.0" cy="799.8" r="4.30" fill="#000"/>
<circle cx="1048.0" cy="799.8" r="4.30" fill="#000"/>
<circle cx="1073.0" cy="799.8" r="4.30" fill="#000"/>
<circle cx="1094.9" cy="803.7" r="4.30" fill="#000"/>
<circle cx="1121.7" cy="806.6" r="4.30" fill="#000"/>
<circle cx="945.8" cy="829.0" r="4.30" fill="#000"/>
<circle cx="1084.8" cy="867.2" r="4.30" fill="#000"/>
<circle cx="1162.1" cy="781.5" r="4.30" fill="#000"/>
<circle cx="1179.5" cy="790.3" r="4.30" fill="#000"/>
<circle cx="1188.9" cy="788.4" r="4.30" fill="#000"/>
<circle cx="1202.5" cy="801.0" r="4.30" fill="#000"/>
<circle cx="1208.5" cy="763.8" r="4.30" fill="#000"/>
<circle cx="1340.5" cy="764.1" r="4.30" fill="#000"/>
<circle cx="1368.3" cy="811.4" r="4.30" fill="#000"/>
<line x1="791.9" y1="797.5" x2="1492.4" y2="797.5" stroke="#33334d" stroke-width="1.80" stroke-dasharray="5.6 3.7" />
<line x1="791.9" y1="721.6" x2="1494.4" y2="721.6" stroke="#0000ff" stroke-width="2.00" stroke-opacity="0.66"/>
<line x1="791.9" y1="790.2" x2="1494.4" y2="790.2" stroke="#0000ff" stroke-width="2.00" stroke-opacity="0.66"/>
<line x1="791.9" y1="859.8" x2="1494.4" y2="859.8" stroke="#0000ff" stroke-width="2.00" stroke-opacity="0.66"/>
<rect x="791.9" y="614.8" width="702.5" height="366.0" fill="none" stroke="#3c3c3c" stroke-width="1.7"/>
<line x1="779.7" y1="627.4" x2="791.9" y2="627.4" stroke="#3c3c3c" stroke-width="1.70" />
<text transform="translate(765.3 627.4) rotate(-90) scale(1 1.080)" font-size="19.00" text-anchor="middle" fill="#1c1c1c" stroke="#1c1c1c" stroke-width="0.35">30</text>
<line x1="779.7" y1="684.0" x2="791.9" y2="684.0" stroke="#3c3c3c" stroke-width="1.70" />
<text transform="translate(765.3 684.0) rotate(-90) scale(1 1.080)" font-size="19.00" text-anchor="middle" fill="#1c1c1c" stroke="#1c1c1c" stroke-width="0.35">20</text>
<line x1="779.7" y1="741.0" x2="791.9" y2="741.0" stroke="#3c3c3c" stroke-width="1.70" />
<text transform="translate(765.3 741.0) rotate(-90) scale(1 1.080)" font-size="19.00" text-anchor="middle" fill="#1c1c1c" stroke="#1c1c1c" stroke-width="0.35">10</text>
<line x1="779.7" y1="797.5" x2="791.9" y2="797.5" stroke="#3c3c3c" stroke-width="1.70" />
<text transform="translate(765.3 797.5) rotate(-90) scale(1 1.080)" font-size="19.00" text-anchor="middle" fill="#1c1c1c" stroke="#1c1c1c" stroke-width="0.35">0</text>
<line x1="779.7" y1="854.7" x2="791.9" y2="854.7" stroke="#3c3c3c" stroke-width="1.70" />
<text transform="translate(765.3 854.7) rotate(-90) scale(1 1.080)" font-size="19.00" text-anchor="middle" fill="#1c1c1c" stroke="#1c1c1c" stroke-width="0.35">-10</text>
<line x1="779.7" y1="911.3" x2="791.9" y2="911.3" stroke="#3c3c3c" stroke-width="1.70" />
<text transform="translate(765.3 911.3) rotate(-90) scale(1 1.080)" font-size="19.00" text-anchor="middle" fill="#1c1c1c" stroke="#1c1c1c" stroke-width="0.35">-20</text>
<line x1="779.7" y1="968.3" x2="791.9" y2="968.3" stroke="#3c3c3c" stroke-width="1.70" />
<text transform="translate(765.3 968.3) rotate(-90) scale(1 1.080)" font-size="19.00" text-anchor="middle" fill="#1c1c1c" stroke="#1c1c1c" stroke-width="0.35">-30</text>
<line x1="817.3" y1="980.8" x2="817.3" y2="993.0" stroke="#3c3c3c" stroke-width="1.70" />
<text x="817.3" y="1022.2" font-size="19.40" text-anchor="middle" fill="#1c1c1c" stroke="#1c1c1c" stroke-width="0.35">0.7</text>
<line x1="980.5" y1="980.8" x2="980.5" y2="993.0" stroke="#3c3c3c" stroke-width="1.70" />
<text x="980.5" y="1022.2" font-size="19.40" text-anchor="middle" fill="#1c1c1c" stroke="#1c1c1c" stroke-width="0.35">0.8</text>
<line x1="1142.7" y1="980.8" x2="1142.7" y2="993.0" stroke="#3c3c3c" stroke-width="1.70" />
<text x="1142.7" y="1022.2" font-size="19.40" text-anchor="middle" fill="#1c1c1c" stroke="#1c1c1c" stroke-width="0.35">0.9</text>
<line x1="1305.8" y1="980.8" x2="1305.8" y2="993.0" stroke="#3c3c3c" stroke-width="1.70" />
<text x="1305.8" y="1022.2" font-size="19.40" text-anchor="middle" fill="#1c1c1c" stroke="#1c1c1c" stroke-width="0.35">1.0</text>
<line x1="1468.8" y1="980.8" x2="1468.8" y2="993.0" stroke="#3c3c3c" stroke-width="1.70" />
<text x="1468.8" y="1022.2" font-size="19.40" text-anchor="middle" fill="#1c1c1c" stroke="#1c1c1c" stroke-width="0.35">1.1</text>
<rect x="1419.0" y="688.0" width="158.0" height="32.0" fill="#fff"/>
<text x="1422.5" y="711.5" font-size="22.00" text-anchor="start" fill="#000" textLength="148.5" lengthAdjust="spacingAndGlyphs" >+1.96 SD (13.4)</text>
<rect x="1424.7" y="754.4" width="226.0" height="34.2" fill="#fff"/>
<text x="1425.4" y="780.2" font-size="22.00" text-anchor="start" fill="#000" textLength="219.3" lengthAdjust="spacingAndGlyphs" >Mean (1.3 [-1.6 – 4.2])</text>
<rect x="1423.0" y="826.6" width="161.5" height="31.4" fill="#fff"/>
<text x="1426.5" y="850.2" font-size="22.00" text-anchor="start" fill="#000" textLength="152.0" lengthAdjust="spacingAndGlyphs" >-1.96 SD (-10.9)</text>
</g>
<text x="874.0" y="855.0" font-size="22.00" text-anchor="start" fill="#000" textLength="189.5" lengthAdjust="spacingAndGlyphs" ><tspan font-style="italic">R </tspan>=-0.152<tspan font-style="italic">, p </tspan>=0.547</text>
<text x="723.8" y="794.7" font-size="23.20" text-anchor="middle" fill="#000" textLength="205.5" lengthAdjust="spacingAndGlyphs" transform="rotate(-90 723.8 794.7)" >ECG – Radar (msec)</text>
<g id="rC">
<clipPath id="crC"><rect x="793.1" y="1168.2" width="709.2" height="369.2"/></clipPath>
<rect x="794.1" y="1347.3" width="707.2" height="9.5" fill="#ececfc"/>
<line x1="793.1" y1="1321.2" x2="1502.3" y2="1388.2" stroke="#333" stroke-width="1.40" />
<polyline fill="none" points="888.5,1318.1 896.9,1319.3 905.4,1320.5 913.8,1321.6 922.2,1322.8 930.7,1324.0 939.1,1325.1 947.5,1326.3 955.9,1327.4 964.4,1328.6 972.8,1329.7 981.2,1330.9 989.7,1332.0 998.1,1333.1 1006.5,1334.2 1015.0,1335.3 1023.4,1336.4 1031.8,1337.5 1040.2,1338.5 1048.7,1339.6 1057.1,1340.6 1065.5,1341.6 1074.0,1342.6 1082.4,1343.5 1090.8,1344.4 1099.3,1345.3 1107.7,1346.2 1116.1,1347.0 1124.6,1347.7 1133.0,1348.5 1141.4,1349.2 1149.8,1349.9 1158.3,1350.5 1166.7,1351.1 1175.1,1351.7 1183.6,1352.3 1192.0,1352.8 1200.4,1353.4 1208.9,1353.9 1217.3,1354.4 1225.7,1354.9 1234.2,1355.4 1242.6,1355.9 1251.0,1356.3 1259.4,1356.8 1267.9,1357.3 1276.3,1357.7 1284.7,1358.2 1293.2,1358.6 1301.6,1359.0 1310.0,1359.5 1318.5,1359.9 1326.9,1360.4 1335.3,1360.8 1343.7,1361.2 1352.2,1361.6 1360.6,1362.1 1369.0,1362.5 1377.5,1362.9 1385.9,1363.3" stroke="#333" stroke-width="1.50" stroke-dasharray="5.5 3.5" />
<polyline fill="none" points="888.5,1341.5 896.9,1342.0 905.4,1342.4 913.8,1342.8 922.2,1343.3 930.7,1343.7 939.1,1344.2 947.5,1344.6 955.9,1345.1 964.4,1345.5 972.8,1346.0 981.2,1346.4 989.7,1346.9 998.1,1347.4 1006.5,1347.9 1015.0,1348.4 1023.4,1348.9 1031.8,1349.4 1040.2,1350.0 1048.7,1350.5 1057.1,1351.1 1065.5,1351.7 1074.0,1352.4 1082.4,1353.0 1090.8,1353.7 1099.3,1354.4 1107.7,1355.2 1116.1,1356.0 1124.6,1356.8 1133.0,1357.7 1141.4,1358.6 1149.8,1359.5 1158.3,1360.5 1166.7,1361.4 1175.1,1362.4 1183.6,1363.5 1192.0,1364.5 1200.4,1365.6 1208.9,1366.7 1217.3,1367.8 1225.7,1368.9 1234.2,1370.0 1242.6,1371.1 1251.0,1372.2 1259.4,1373.4 1267.9,1374.5 1276.3,1375.7 1284.7,1376.8 1293.2,1378.0 1301.6,1379.1 1310.0,1380.3 1318.5,1381.5 1326.9,1382.6 1335.3,1383.8 1343.7,1385.0 1352.2,1386.2 1360.6,1387.3 1369.0,1388.5 1377.5,1389.7 1385.9,1390.9" stroke="#333" stroke-width="1.50" stroke-dasharray="5.5 3.5" />
<circle cx="984.1" cy="1376.7" r="4.30" fill="#000"/>
<circle cx="988.8" cy="1370.0" r="4.30" fill="#000"/>
<circle cx="948.3" cy="1327.8" r="4.30" fill="#000"/>
<circle cx="935.2" cy="1314.1" r="4.30" fill="#000"/>
<circle cx="1012.8" cy="1383.7" r="4.30" fill="#000"/>
<circle cx="990.6" cy="1360.4" r="4.30" fill="#000"/>
<circle cx="1032.8" cy="1393.2" r="4.30" fill="#000"/>
<circle cx="1024.9" cy="1384.9" r="4.30" fill="#000"/>
<circle cx="1016.6" cy="1376.2" r="4.30" fill="#000"/>
<circle cx="978.8" cy="1336.7" r="4.30" fill="#000"/>
<circle cx="962.2" cy="1319.3" r="4.30" fill="#000"/>
<circle cx="1040.4" cy="1389.7" r="4.30" fill="#000"/>
<circle cx="1030.4" cy="1379.1" r="4.30" fill="#000"/>
<circle cx="1021.3" cy="1369.5" r="4.30" fill="#000"/>
<circle cx="1010.6" cy="1358.3" r="4.30" fill="#000"/>
<circle cx="1002.4" cy="1349.7" r="4.30" fill="#000"/>
<circle cx="998.3" cy="1345.5" r="4.30" fill="#000"/>
<circle cx="989.7" cy="1336.5" r="4.30" fill="#000"/>
<circle cx="975.7" cy="1322.0" r="4.30" fill="#000"/>
<circle cx="962.5" cy="1308.3" r="4.30" fill="#000"/>
<circle cx="1045.8" cy="1383.9" r="4.30" fill="#000"/>
<circle cx="1042.5" cy="1380.4" r="4.30" fill="#000"/>
<circle cx="1027.6" cy="1364.6" r="4.30" fill="#000"/>
<circle cx="1024.3" cy="1361.2" r="4.30" fill="#000"/>
<circle cx="1005.4" cy="1341.5" r="4.30" fill="#000"/>
<circle cx="1034.7" cy="1360.6" r="4.30" fill="#000"/>
<circle cx="1032.2" cy="1358.0" r="4.30" fill="#000"/>
<circle cx="1024.0" cy="1349.4" r="4.30" fill="#000"/>
<circle cx="1019.1" cy="1344.3" r="4.30" fill="#000"/>
<circle cx="1010.5" cy="1335.3" r="4.30" fill="#000"/>
<circle cx="1055.1" cy="1370.6" r="4.30" fill="#000"/>
<circle cx="1036.1" cy="1350.5" r="4.30" fill="#000"/>
<circle cx="1021.7" cy="1335.6" r="4.30" fill="#000"/>
<circle cx="975.9" cy="1287.8" r="4.30" fill="#000"/>
<circle cx="1062.2" cy="1366.6" r="4.30" fill="#000"/>
<circle cx="1043.2" cy="1346.5" r="4.30" fill="#000"/>
<circle cx="1039.9" cy="1343.1" r="4.30" fill="#000"/>
<circle cx="1035.8" cy="1338.8" r="4.30" fill="#000"/>
<circle cx="1072.6" cy="1366.1" r="4.30" fill="#000"/>
<circle cx="1067.6" cy="1360.8" r="4.30" fill="#000"/>
<circle cx="1053.6" cy="1346.0" r="4.30" fill="#000"/>
<circle cx="1048.6" cy="1340.8" r="4.30" fill="#000"/>
<circle cx="1043.8" cy="1335.7" r="4.30" fill="#000"/>
<circle cx="1026.6" cy="1317.7" r="4.30" fill="#000"/>
<circle cx="1089.6" cy="1372.5" r="4.30" fill="#000"/>
<circle cx="1085.5" cy="1368.2" r="4.30" fill="#000"/>
<circle cx="1073.1" cy="1355.0" r="4.30" fill="#000"/>
<circle cx="1066.5" cy="1348.1" r="4.30" fill="#000"/>
<circle cx="1054.1" cy="1335.1" r="4.30" fill="#000"/>
<circle cx="1036.2" cy="1316.3" r="4.30" fill="#000"/>
<circle cx="1000.7" cy="1279.3" r="4.30" fill="#000"/>
<circle cx="1095.9" cy="1367.7" r="4.30" fill="#000"/>
<circle cx="1080.2" cy="1351.0" r="4.30" fill="#000"/>
<circle cx="1076.0" cy="1346.7" r="4.30" fill="#000"/>
<circle cx="1071.9" cy="1342.3" r="4.30" fill="#000"/>
<circle cx="1100.5" cy="1361.0" r="4.30" fill="#000"/>
<circle cx="1093.9" cy="1354.0" r="4.30" fill="#000"/>
<circle cx="1088.1" cy="1347.9" r="4.30" fill="#000"/>
<circle cx="1082.3" cy="1341.8" r="4.30" fill="#000"/>
<circle cx="1069.9" cy="1328.8" r="4.30" fill="#000"/>
<circle cx="1007.3" cy="1263.4" r="4.30" fill="#000"/>
<circle cx="1106.8" cy="1356.1" r="4.30" fill="#000"/>
<circle cx="1092.7" cy="1341.3" r="4.30" fill="#000"/>
<circle cx="1086.1" cy="1334.4" r="4.30" fill="#000"/>
<circle cx="1112.2" cy="1350.4" r="4.30" fill="#000"/>
<circle cx="1099.4" cy="1336.9" r="4.30" fill="#000"/>
<circle cx="1116.8" cy="1343.8" r="4.30" fill="#000"/>
<circle cx="1111.0" cy="1337.7" r="4.30" fill="#000"/>
<circle cx="1126.1" cy="1330.6" r="4.30" fill="#000"/>
<circle cx="1106.2" cy="1309.8" r="4.30" fill="#000"/>
<circle cx="1102.9" cy="1306.3" r="4.30" fill="#000"/>
<circle cx="1131.5" cy="1324.9" r="4.30" fill="#000"/>
<circle cx="1115.8" cy="1308.4" r="4.30" fill="#000"/>
<circle cx="1097.0" cy="1460.7" r="4.30" fill="#000"/>
<circle cx="1076.7" cy="1405.0" r="4.30" fill="#000"/>
<circle cx="1145.9" cy="1432.0" r="4.30" fill="#000"/>
<circle cx="1138.1" cy="1423.7" r="4.30" fill="#000"/>
<circle cx="1153.3" cy="1428.3" r="4.30" fill="#000"/>
<circle cx="1111.2" cy="1383.9" r="4.30" fill="#000"/>
<circle cx="1109.2" cy="1370.2" r="4.30" fill="#000"/>
<circle cx="1140.9" cy="1392.3" r="4.30" fill="#000"/>
<circle cx="1150.7" cy="1391.1" r="4.30" fill="#000"/>
<circle cx="1126.7" cy="1365.7" r="4.30" fill="#000"/>
<circle cx="1133.0" cy="1360.8" r="4.30" fill="#000"/>
<circle cx="1175.5" cy="1394.1" r="4.30" fill="#000"/>
<circle cx="1174.2" cy="1392.8" r="4.30" fill="#000"/>
<circle cx="1159.6" cy="1377.4" r="4.30" fill="#000"/>
<circle cx="1157.1" cy="1374.8" r="4.30" fill="#000"/>
<circle cx="1140.9" cy="1357.6" r="4.30" fill="#000"/>
<circle cx="1133.4" cy="1349.8" r="4.30" fill="#000"/>
<circle cx="1143.0" cy="1348.4" r="4.30" fill="#000"/>
<circle cx="1202.7" cy="1399.7" r="4.30" fill="#000"/>
<circle cx="1176.0" cy="1371.6" r="4.30" fill="#000"/>
<circle cx="1166.8" cy="1361.9" r="4.30" fill="#000"/>
<circle cx="1163.1" cy="1358.0" r="4.30" fill="#000"/>
<circle cx="1151.8" cy="1346.2" r="4.30" fill="#000"/>
<circle cx="1139.0" cy="1332.7" r="4.30" fill="#000"/>
<circle cx="1230.9" cy="1417.7" r="4.30" fill="#000"/>
<circle cx="1210.7" cy="1396.6" r="4.30" fill="#000"/>
<circle cx="1192.7" cy="1377.7" r="4.30" fill="#000"/>
<circle cx="1179.0" cy="1363.2" r="4.30" fill="#000"/>
<circle cx="1174.8" cy="1358.8" r="4.30" fill="#000"/>
<circle cx="1167.3" cy="1350.9" r="4.30" fill="#000"/>
<circle cx="1156.4" cy="1339.6" r="4.30" fill="#000"/>
<circle cx="1269.6" cy="1446.6" r="4.30" fill="#000"/>
<circle cx="1184.5" cy="1357.4" r="4.30" fill="#000"/>
<circle cx="1177.8" cy="1350.4" r="4.30" fill="#000"/>
<circle cx="1162.8" cy="1334.7" r="4.30" fill="#000"/>
<circle cx="1219.6" cy="1382.8" r="4.30" fill="#000"/>
<circle cx="1189.1" cy="1350.8" r="4.30" fill="#000"/>
<circle cx="1169.9" cy="1330.7" r="4.30" fill="#000"/>
<circle cx="1165.7" cy="1326.4" r="4.30" fill="#000"/>
<circle cx="1231.3" cy="1383.6" r="4.30" fill="#000"/>
<circle cx="1217.9" cy="1369.6" r="4.30" fill="#000"/>
<circle cx="1210.4" cy="1361.7" r="4.30" fill="#000"/>
<circle cx="1198.7" cy="1349.4" r="4.30" fill="#000"/>
<circle cx="1190.4" cy="1340.7" r="4.30" fill="#000"/>
<circle cx="1233.0" cy="1373.9" r="4.30" fill="#000"/>
<circle cx="1198.4" cy="1337.6" r="4.30" fill="#000"/>
<circle cx="1191.7" cy="1330.6" r="4.30" fill="#000"/>
<circle cx="1221.4" cy="1350.2" r="4.30" fill="#000"/>
<circle cx="1193.4" cy="1321.0" r="4.30" fill="#000"/>
<circle cx="1267.5" cy="1375.5" r="4.30" fill="#000"/>
<circle cx="1254.9" cy="1362.3" r="4.30" fill="#000"/>
<circle cx="1257.0" cy="1353.0" r="4.30" fill="#000"/>
<circle cx="1217.8" cy="1312.1" r="4.30" fill="#000"/>
<circle cx="1302.8" cy="1389.4" r="4.30" fill="#000"/>
<circle cx="1262.6" cy="1335.9" r="4.30" fill="#000"/>
<circle cx="1292.0" cy="1355.1" r="4.30" fill="#000"/>
<circle cx="1287.8" cy="1350.7" r="4.30" fill="#000"/>
<circle cx="1250.5" cy="1311.9" r="4.30" fill="#000"/>
<circle cx="1288.3" cy="1339.7" r="4.30" fill="#000"/>
<circle cx="1320.7" cy="1362.0" r="4.30" fill="#000"/>
<circle cx="1301.4" cy="1341.9" r="4.30" fill="#000"/>
<circle cx="1283.3" cy="1323.1" r="4.30" fill="#000"/>
<circle cx="1325.3" cy="1355.3" r="4.30" fill="#000"/>
<circle cx="1340.1" cy="1359.2" r="4.30" fill="#000"/>
<circle cx="1142.0" cy="1278.8" r="4.30" fill="#000"/>
<circle cx="1122.0" cy="1257.8" r="4.30" fill="#000"/>
<circle cx="1179.3" cy="1237.7" r="4.30" fill="#000"/>
<circle cx="888.8" cy="1277.3" r="4.30" fill="#000"/>
<circle cx="910.8" cy="1254.5" r="4.30" fill="#000"/>
<circle cx="1388.8" cy="1478.9" r="4.30" fill="#000"/>
<circle cx="1021.8" cy="1358.6" r="4.30" fill="#000"/>
<circle cx="1013.0" cy="1337.9" r="4.30" fill="#000"/>
<circle cx="1021.6" cy="1346.8" r="4.30" fill="#000"/>
<circle cx="1037.2" cy="1363.2" r="4.30" fill="#000"/>
<circle cx="1033.6" cy="1347.9" r="4.30" fill="#000"/>
<circle cx="1038.3" cy="1341.4" r="4.30" fill="#000"/>
<circle cx="1040.7" cy="1343.9" r="4.30" fill="#000"/>
<circle cx="1046.2" cy="1338.2" r="4.30" fill="#000"/>
<circle cx="1051.1" cy="1343.4" r="4.30" fill="#000"/>
<circle cx="1075.0" cy="1368.7" r="4.30" fill="#000"/>
<circle cx="1064.0" cy="1345.5" r="4.30" fill="#000"/>
<circle cx="1087.9" cy="1370.8" r="4.30" fill="#000"/>
<circle cx="1069.5" cy="1339.8" r="4.30" fill="#000"/>
<circle cx="1082.6" cy="1353.6" r="4.30" fill="#000"/>
<circle cx="1067.5" cy="1326.2" r="4.30" fill="#000"/>
<circle cx="1090.5" cy="1350.5" r="4.30" fill="#000"/>
<circle cx="1098.0" cy="1358.4" r="4.30" fill="#000"/>
<circle cx="1088.6" cy="1337.0" r="4.30" fill="#000"/>
<circle cx="1104.3" cy="1353.5" r="4.30" fill="#000"/>
<circle cx="1114.7" cy="1352.9" r="4.30" fill="#000"/>
<circle cx="1108.6" cy="1335.1" r="4.30" fill="#000"/>
<circle cx="1135.4" cy="1363.4" r="4.30" fill="#000"/>
<circle cx="1138.4" cy="1355.0" r="4.30" fill="#000"/>
<circle cx="1162.1" cy="1380.0" r="4.30" fill="#000"/>
<circle cx="1140.6" cy="1345.8" r="4.30" fill="#000"/>
<circle cx="1154.3" cy="1348.7" r="4.30" fill="#000"/>
<circle cx="1164.3" cy="1359.3" r="4.30" fill="#000"/>
<circle cx="1158.9" cy="1342.1" r="4.30" fill="#000"/>
<circle cx="1172.3" cy="1356.2" r="4.30" fill="#000"/>
<circle cx="1195.2" cy="1380.3" r="4.30" fill="#000"/>
<circle cx="1175.3" cy="1347.8" r="4.30" fill="#000"/>
<line x1="793.1" y1="1352.8" x2="1500.3" y2="1352.8" stroke="#111122" stroke-width="2.10" stroke-dasharray="6.2 3.1" />
<line x1="793.1" y1="1289.0" x2="1502.3" y2="1289.0" stroke="#0000ff" stroke-width="2.00" stroke-opacity="0.66"/>
<line x1="793.1" y1="1351.5" x2="1502.3" y2="1351.5" stroke="#0000ff" stroke-width="2.00" stroke-opacity="0.66"/>
<line x1="793.1" y1="1415.6" x2="1502.3" y2="1415.6" stroke="#0000ff" stroke-width="2.00" stroke-opacity="0.66"/>
<rect x="793.1" y="1168.2" width="709.2" height="369.2" fill="none" stroke="#3c3c3c" stroke-width="1.7"/>
<line x1="780.9" y1="1181.4" x2="793.1" y2="1181.4" stroke="#3c3c3c" stroke-width="1.70" />
<text transform="translate(765.0 1181.4) rotate(-90) scale(1 1.080)" font-size="19.00" text-anchor="middle" fill="#1c1c1c" stroke="#1c1c1c" stroke-width="0.35">300</text>
<line x1="780.9" y1="1238.5" x2="793.1" y2="1238.5" stroke="#3c3c3c" stroke-width="1.70" />
<text transform="translate(765.0 1238.5) rotate(-90) scale(1 1.080)" font-size="19.00" text-anchor="middle" fill="#1c1c1c" stroke="#1c1c1c" stroke-width="0.35">200</text>
<line x1="780.9" y1="1295.6" x2="793.1" y2="1295.6" stroke="#3c3c3c" stroke-width="1.70" />
<text transform="translate(765.0 1295.6) rotate(-90) scale(1 1.080)" font-size="19.00" text-anchor="middle" fill="#1c1c1c" stroke="#1c1c1c" stroke-width="0.35">100</text>
<line x1="780.9" y1="1352.8" x2="793.1" y2="1352.8" stroke="#3c3c3c" stroke-width="1.70" />
<text transform="translate(765.0 1352.8) rotate(-90) scale(1 1.080)" font-size="19.00" text-anchor="middle" fill="#1c1c1c" stroke="#1c1c1c" stroke-width="0.35">0</text>
<line x1="780.9" y1="1410.5" x2="793.1" y2="1410.5" stroke="#3c3c3c" stroke-width="1.70" />
<text transform="translate(765.0 1410.5) rotate(-90) scale(1 1.080)" font-size="19.00" text-anchor="middle" fill="#1c1c1c" stroke="#1c1c1c" stroke-width="0.35">-100</text>
<line x1="780.9" y1="1467.6" x2="793.1" y2="1467.6" stroke="#3c3c3c" stroke-width="1.70" />
<text transform="translate(765.0 1467.6) rotate(-90) scale(1 1.080)" font-size="19.00" text-anchor="middle" fill="#1c1c1c" stroke="#1c1c1c" stroke-width="0.35">-200</text>
<line x1="780.9" y1="1524.9" x2="793.1" y2="1524.9" stroke="#3c3c3c" stroke-width="1.70" />
<text transform="translate(765.0 1524.9) rotate(-90) scale(1 1.080)" font-size="19.00" text-anchor="middle" fill="#1c1c1c" stroke="#1c1c1c" stroke-width="0.35">-300</text>
<line x1="818.4" y1="1537.4" x2="818.4" y2="1549.6" stroke="#3c3c3c" stroke-width="1.70" />
<text x="818.4" y="1579.1" font-size="19.40" text-anchor="middle" fill="#1c1c1c" stroke="#1c1c1c" stroke-width="0.35">0.6</text>
<line x1="928.4" y1="1537.4" x2="928.4" y2="1549.6" stroke="#3c3c3c" stroke-width="1.70" />
<text x="928.4" y="1579.1" font-size="19.40" text-anchor="middle" fill="#1c1c1c" stroke="#1c1c1c" stroke-width="0.35">0.7</text>
<line x1="1038.3" y1="1537.4" x2="1038.3" y2="1549.6" stroke="#3c3c3c" stroke-width="1.70" />
<text x="1038.3" y="1579.1" font-size="19.40" text-anchor="middle" fill="#1c1c1c" stroke="#1c1c1c" stroke-width="0.35">0.8</text>
<line x1="1147.2" y1="1537.4" x2="1147.2" y2="1549.6" stroke="#3c3c3c" stroke-width="1.70" />
<text x="1147.2" y="1579.1" font-size="19.40" text-anchor="middle" fill="#1c1c1c" stroke="#1c1c1c" stroke-width="0.35">0.9</text>
<line x1="1256.8" y1="1537.4" x2="1256.8" y2="1549.6" stroke="#3c3c3c" stroke-width="1.70" />
<text x="1256.8" y="1579.1" font-size="19.40" text-anchor="middle" fill="#1c1c1c" stroke="#1c1c1c" stroke-width="0.35">1.0</text>
<line x1="1367.0" y1="1537.4" x2="1367.0" y2="1549.6" stroke="#3c3c3c" stroke-width="1.70" />
<text x="1367.0" y="1579.1" font-size="19.40" text-anchor="middle" fill="#1c1c1c" stroke="#1c1c1c" stroke-width="0.35">1.1</text>
<line x1="1476.8" y1="1537.4" x2="1476.8" y2="1549.6" stroke="#3c3c3c" stroke-width="1.70" />
<text x="1476.8" y="1579.1" font-size="19.40" text-anchor="middle" fill="#1c1c1c" stroke="#1c1c1c" stroke-width="0.35">1.2</text>
<rect x="1410.0" y="1231.4" width="172.0" height="30.1" fill="#fff"/>
<text x="1414.0" y="1255.2" font-size="22.00" text-anchor="start" fill="#000" textLength="162.0" lengthAdjust="spacingAndGlyphs" >+1.96 SD (111.5)</text>
<rect x="1410.0" y="1312.9" width="228.4" height="30.3" fill="#fff"/>
<text x="1412.4" y="1336.8" font-size="22.00" text-anchor="start" fill="#000" textLength="220.0" lengthAdjust="spacingAndGlyphs" >Mean (1.3 [-7.0 – 9.6])</text>
<rect x="1416.0" y="1424.4" width="174.3" height="31.2" fill="#fff"/>
<text x="1419.3" y="1449.3" font-size="22.00" text-anchor="start" fill="#000" textLength="165.0" lengthAdjust="spacingAndGlyphs" >-1.96 SD (-108.9)</text>
</g>
<text x="842.5" y="1411.8" font-size="22.00" text-anchor="start" fill="#000" textLength="190.0" lengthAdjust="spacingAndGlyphs" ><tspan font-style="italic">R </tspan>=-0.271<tspan font-style="italic">, p </tspan>&lt;0.001</text>
<text x="723.8" y="1355.9" font-size="23.20" text-anchor="middle" fill="#000" textLength="204.5" lengthAdjust="spacingAndGlyphs" transform="rotate(-90 723.8 1355.9)" >ECG – Radar (msec)</text>
<text x="1154.4" y="1620.0" font-size="23.20" text-anchor="middle" fill="#000" textLength="221.3" lengthAdjust="spacingAndGlyphs" >(ECG + Radar)/2 (sec)</text>
</svg>
</body></html>
